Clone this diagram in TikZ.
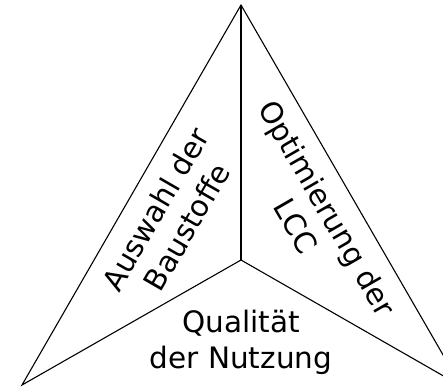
\documentclass[tikz,border=0pt]{standalone}
\usepackage{fontspec}
\setmainfont{DejaVu Sans}
\begin{document}
\begin{tikzpicture}[x=1pt,y=-1pt,
  edge/.style={line width=1.1pt, line join=miter},
  label/.style={inner sep=0pt, align=center,
    font=\fontsize{29.5}{36}\selectfont}]
\useasboundingbox (0,0) rectangle (443,386);
% corners of the star and its centre
\coordinate (T) at (241,5);
\coordinate (L) at (22,385);
\coordinate (R) at (461,386);
\coordinate (C) at (241,260);
% outline and inner spokes
\draw[edge] (T) -- (L) -- (C) -- (R) -- cycle;
\draw[edge] (C) -- (T);
% the three fields
\node[label, rotate=60]  (bau) at (171,218) {Auswahl der\\Baustoffe};
\node[label, rotate=-60] (lcc) at (312,217) {Optimierung der\\LCC};
\node[label]             (nut) at (241,342) {Qualität\\der Nutzung};
\end{tikzpicture}
\end{document}
